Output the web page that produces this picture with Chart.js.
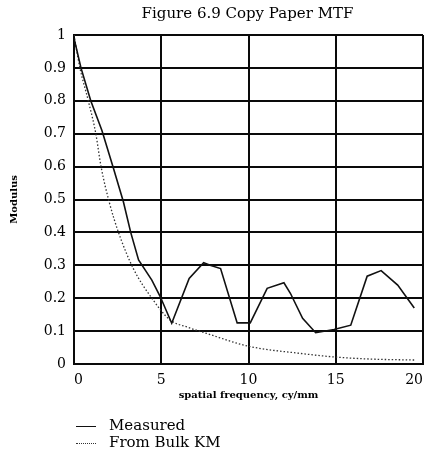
<!DOCTYPE html>
<html>
<head>
<meta charset="utf-8">
<script src="https://cdn.jsdelivr.net/npm/chart.js@4.4.0/dist/chart.umd.min.js"></script>
<style>
  html, body { margin: 0; padding: 0; background: #fff; }
  #wrap { position: relative; width: 425px; height: 455px; }
  #c { position: absolute; left: 0; top: 0; }
  #title { position: absolute; left: 0; width: 425px; top: 4px; text-align: center; padding-left: 70px; box-sizing: border-box;
           font-family: "DejaVu Serif", serif; font-size: 15px; color: #000; white-space: nowrap; }
  .leg { position: absolute; left: 76px; font-family: "DejaVu Serif", serif; font-size: 15px; color: #000; white-space: nowrap; }
  .leg span.s { display: inline-block; width: 20px; vertical-align: middle; margin-right: 13px; }
</style>
</head>
<body>
<div id="wrap">
  <canvas id="c" width="425" height="455"></canvas>
  <div id="title">Figure 6.9 Copy Paper MTF</div>
  <div class="leg" id="leg1" style="top:416px;"><span class="s" style="border-top:1.5px solid #111;"></span>Measured</div>
  <div class="leg" id="leg2" style="top:433px;"><span class="s" style="border-top:1.5px dotted #333;"></span>From Bulk KM</div>
</div>
<script>
const seriesNames = ['Measured', 'From Bulk KM'];
const measuredX = [0, 0.4, 0.96, 1.6, 2.26, 2.83, 3.25, 3.7, 4.46, 4.94, 5.6, 6.6, 7.43, 7.8, 8.4, 9.35, 10.1, 11.07, 12.03, 12.4, 13.1, 13.85, 14.9, 15.86, 16.8, 17.6, 18.55, 19.5];
const measuredY = [0.99, 0.9, 0.8, 0.71, 0.595, 0.493, 0.4, 0.316, 0.255, 0.205, 0.124, 0.26, 0.308, 0.3, 0.29, 0.125, 0.125, 0.23, 0.247, 0.215, 0.139, 0.095, 0.105, 0.118, 0.267, 0.284, 0.24, 0.17];
const bulkX = [0, 0.34, 0.82, 1.25, 1.55, 2.03, 2.55, 3.4, 4.46, 5.5, 6.5, 7.6, 10, 13, 15, 17, 19.6];
const bulkY = [1.0, 0.9, 0.8, 0.7, 0.6, 0.49, 0.4, 0.29, 0.2, 0.134, 0.112, 0.093, 0.054, 0.032, 0.021, 0.015, 0.012];
const yTickLabels = ['0', '0.1', '0.2', '0.3', '0.4', '0.5', '0.6', '0.7', '0.8', '0.9', '1'];
const xTickLabels = ['0', '5', '10', '15', '20'];
const titleText = 'Figure 6.9 Copy Paper MTF';
const xTitle = 'spatial frequency, cy/mm';
const yTitle = 'Modulus';

const toPts = (xs, ys) => xs.map((x, i) => ({ x: x, y: ys[i] }));

const gridColor = '#0a0a0a';
const tickFont = { family: 'DejaVu Serif', size: 14 };

new Chart(document.getElementById('c'), {
  type: 'scatter',
  data: {
    datasets: [
      { label: seriesNames[0], data: toPts(measuredX, measuredY), showLine: true, borderColor: '#111', borderWidth: 1.6, pointRadius: 0, tension: 0 },
      { label: seriesNames[1], data: toPts(bulkX, bulkY), showLine: true, borderColor: '#333', borderWidth: 1.3, borderDash: [1.5, 2], pointRadius: 0, cubicInterpolationMode: 'monotone' }
    ]
  },
  options: {
    responsive: false,
    animation: false,
    layout: { padding: { left: 0, right: 2, top: 35, bottom: 50 } },
    plugins: { legend: { display: false }, title: { display: false }, tooltip: { enabled: false } },
    scales: {
      x: {
        type: 'linear', min: 0, max: 20,
        ticks: { stepSize: 5, color: '#000', font: tickFont, padding: 8, maxRotation: 0, align: 'inner',
                 callback: (v) => { const i = xTickLabels.indexOf(String(v)); return i >= 0 ? xTickLabels[i] : ''; } },
        grid: { color: gridColor, lineWidth: 2, drawTicks: false },
        border: { display: true, color: gridColor, width: 2 },
        title: { display: true, text: xTitle, color: '#000', font: { family: 'DejaVu Serif', size: 10, weight: 'bold' }, padding: { top: 0, bottom: 4 } },
        afterFit: (s) => { s.height = 41; s.paddingLeft = 0; s.paddingRight = 0; }
      },
      y: {
        type: 'linear', min: 0, max: 1,
        ticks: { stepSize: 0.1, color: '#000', font: tickFont, padding: 8,
                 callback: (v) => yTickLabels[Math.round(v * 10)] },
        grid: { color: gridColor, lineWidth: 2, drawTicks: false },
        border: { display: true, color: gridColor, width: 2 },
        title: { display: true, text: yTitle, color: '#000', font: { family: 'DejaVu Serif', size: 10, weight: 'bold' }, padding: { top: 8, bottom: 0 } },
        afterFit: (s) => { s.width = 74; s.paddingTop = 0; s.paddingBottom = 0; }
      }
    }
  }
});
</script>
</body>
</html>
